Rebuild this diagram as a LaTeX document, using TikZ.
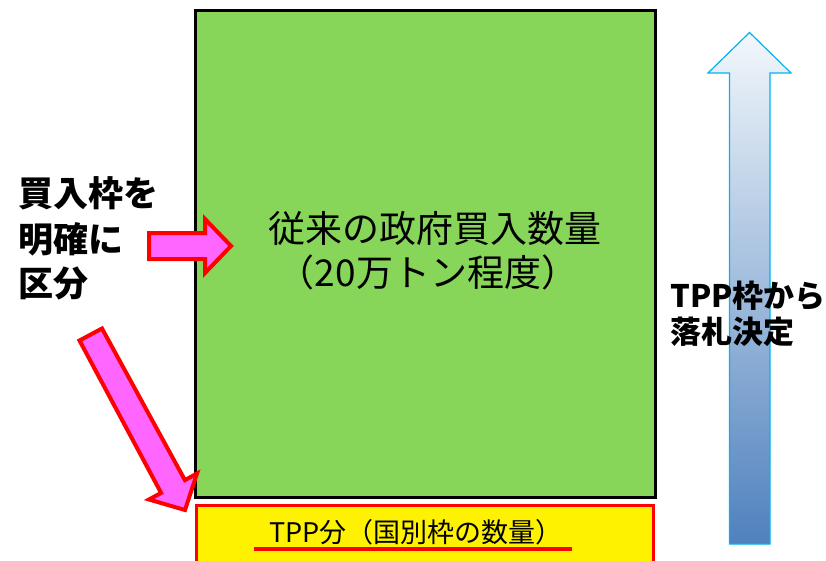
\documentclass[tikz,border=0pt]{standalone}
\usepackage{fontspec}
\setmainfont{Noto Sans CJK JP}
\definecolor{boxgreen}{RGB}{135,214,90}
\definecolor{pinkfill}{RGB}{255,102,255}
\definecolor{arrowtop}{RGB}{242,247,252}
\definecolor{arrowbot}{RGB}{79,129,189}
\definecolor{arrowline}{RGB}{0,180,240}
\tikzset{
  pinkarrow/.style={draw=red, line width=4pt, line join=miter, fill=pinkfill},
  bigtext/.style={font=\fontsize{37}{40}\selectfont, inner sep=0pt},
  sidetext/.style={font=\fontsize{35}{40}\selectfont\bfseries, inner sep=0pt, anchor=west},
  righttext/.style={font=\fontsize{31}{36}\selectfont\bfseries, inner sep=0pt, anchor=west},
}
\begin{document}
\begin{tikzpicture}[x=1pt,y=-1pt]
\useasboundingbox (0,0) rectangle (826,561);
\clip (0,0) rectangle (826,561);
% green box
\node[draw=black, line width=3pt, fill=boxgreen, minimum width=460pt, minimum height=487pt,
      anchor=north west, inner sep=0pt, outer sep=0pt] (main) at (195.5,10.5) {};
% yellow box
\node[draw=red, line width=3pt, fill=yellow, minimum width=457pt, minimum height=80pt,
      anchor=north west, inner sep=0pt, outer sep=0pt] (tpp) at (196.5,505.5) {};
% texts in green box
\node[bigtext] (t1) at (435,228) {従来の政府買入数量};
\node[bigtext] (t2) at (428,272) {（20万トン程度）};
% bottom text
\node[font=\fontsize{27}{30}\selectfont, inner sep=0pt] (tb) at (416,532) {TPP分（国別枠の数量）};
\draw[red, line width=3.5pt] (254,549) -- (572,549);
% left text
\node[sidetext] (l1) at (18,193) {買入枠を};
\node[sidetext] (l2) at (18,239) {明確に};
\node[sidetext] (l3) at (18,283) {区分};
% horizontal pink arrow
\draw[pinkarrow] (149,233) -- (205,233) -- (205,219) -- (231,246) -- (205,273) -- (205,259) -- (149,259) -- cycle;
% diagonal pink arrow
\draw[pinkarrow] (79.5,340.5) -- (102,328.5) -- (184.9,480.1) -- (197,473.5) -- (185,510) -- (149,499.5) -- (161.1,492.9) -- cycle;
% up arrow
\draw[draw=arrowline, line width=1.2pt, top color=arrowtop, bottom color=arrowbot]
  (729.5,544) -- (729.5,73) -- (708,73) -- (749.5,32.5) -- (791,73) -- (770,73) -- (770,544) -- cycle;
% right text (on top of arrow)
\node[righttext] (r1) at (670,296) {TPP枠から};
\node[righttext] (r2) at (670,332) {落札決定};
\end{tikzpicture}
\end{document}
